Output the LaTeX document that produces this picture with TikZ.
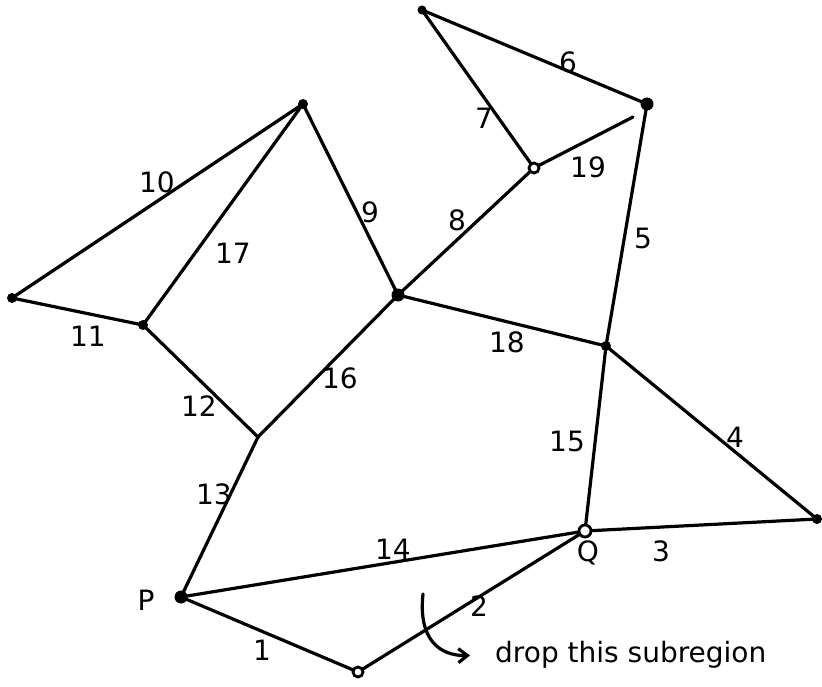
\documentclass[tikz,border=0pt]{standalone}
\usepackage{fontspec}
\setmainfont{DejaVu Sans}
\usetikzlibrary{arrows.meta}
\begin{document}
\begin{tikzpicture}[x=1pt,y=-1pt,
  edge/.style={line width=3.2pt, line cap=round},
  vtx/.style={circle, fill=black, inner sep=0pt, minimum size=10pt},
  ovtx/.style={circle, draw=black, fill=white, line width=2.8pt, inner sep=0pt, minimum size=10pt},
  lbl/.style={font=\fontsize{28}{32}\selectfont, inner sep=1pt}]
\useasboundingbox (0,0) rectangle (822,687);
% vertices
\coordinate (A) at (422,10);
\coordinate (B) at (647,104);
\coordinate (C) at (534,168);
\coordinate (Cend) at (633,117);
\coordinate (E) at (303,104);
\coordinate (F) at (12,298);
\coordinate (G) at (143,325);
\coordinate (H) at (398,295);
\coordinate (I) at (606,346);
\coordinate (J) at (258,437);
\coordinate (K) at (817,519);
\coordinate (Q) at (585,531);
\coordinate (P) at (181,597);
\coordinate (R) at (358,672);
% edges
\draw[edge] (P) -- (R);
\draw[edge] (R) -- (Q);
\draw[edge] (Q) -- (K);
\draw[edge] (I) -- (K);
\draw[edge] (B) -- (I);
\draw[edge] (A) -- (B);
\draw[edge] (A) -- (C);
\draw[edge] (H) -- (C);
\draw[edge] (E) -- (H);
\draw[edge] (F) -- (E);
\draw[edge] (F) -- (G);
\draw[edge] (G) -- (J);
\draw[edge] (J) -- (P);
\draw[edge] (P) -- (Q);
\draw[edge] (I) -- (Q);
\draw[edge] (J) -- (H);
\draw[edge] (G) -- (E);
\draw[edge] (H) -- (I);
\draw[edge] (C) -- (Cend);
% vertex marks
\node[vtx, minimum size=9pt] (nA) at (A) {};
\node[vtx, minimum size=13pt] (nB) at (B) {};
\node[ovtx] (nC) at (C) {};
\node[vtx] (nE) at (E) {};
\node[vtx] (nF) at (F) {};
\node[vtx] (nG) at (G) {};
\node[vtx, minimum size=13pt] (nH) at (H) {};
\node[vtx] (nI) at (I) {};
\node[vtx] (nK) at (K) {};
\node[ovtx, minimum size=12pt] (nQ) at (Q) {};
\node[vtx, minimum size=13pt] (nP) at (P) {};
\node[ovtx] (nR) at (R) {};
% labels
\node[lbl] (l10) at (157,182) {10};
\node[lbl] (l17) at (233,253) {17};
\node[lbl] (l9) at (370,212) {9};
\node[lbl] (l8) at (457,220) {8};
\node[lbl] (l7) at (484,118) {7};
\node[lbl] (l6) at (568,62) {6};
\node[lbl] (l19) at (588,167) {19};
\node[lbl] (l5) at (643,238) {5};
\node[lbl] (l11) at (88,336) {11};
\node[lbl] (l18) at (507,342) {18};
\node[lbl] (l16) at (340,378) {16};
\node[lbl] (l12) at (199,406) {12};
\node[lbl] (l15) at (567,441) {15};
\node[lbl] (l4) at (735,437) {4};
\node[lbl] (l13) at (214,494) {13};
\node[lbl] (l14) at (393,549) {14};
\node[lbl] (lQ) at (588,553) {Q};
\node[lbl] (l3) at (661,551) {3};
\node[lbl] (lP) at (146,600) {P};
\node[lbl] (l1) at (262,650) {1};
\node[lbl] (l2) at (479,606) {2};
\node[lbl, anchor=west] (note) at (494,655) {drop this subregion};
% annotation arrow
\coordinate (a0) at (423,594);
\draw[edge, shorten >=24pt, -{Straight Barb[length=9pt, width=14pt]}] (a0) .. controls (418,640) and (440,656) .. (note.west);
\end{tikzpicture}
\end{document}
